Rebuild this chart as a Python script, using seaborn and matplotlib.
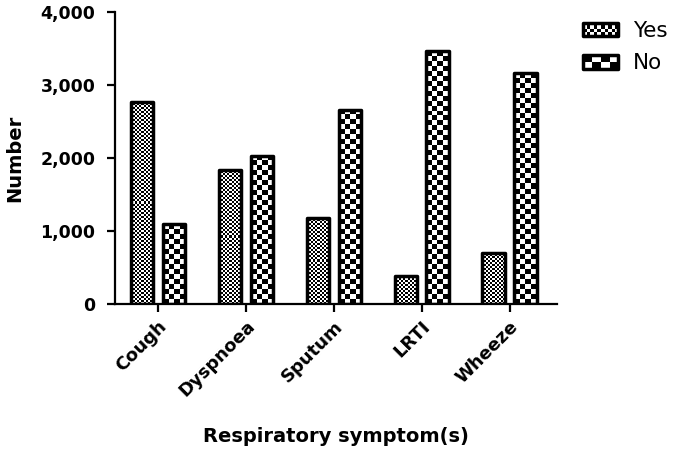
import numpy as np
import pandas as pd
import matplotlib
matplotlib.use('Agg')
import matplotlib.pyplot as plt
import seaborn as sns
from matplotlib.patches import Rectangle
from matplotlib.legend_handler import HandlerBase
from matplotlib.image import BboxImage
from matplotlib.transforms import Bbox, TransformedBbox
from matplotlib.ticker import FuncFormatter

# data
symptoms = ['Cough', 'Dyspnoea', 'Sputum', 'LRTI', 'Wheeze']
yes_counts = [2770, 1840, 1180, 380, 700]
no_counts = [1090, 2030, 2660, 3460, 3160]
groups = ['Yes', 'No']

df = pd.DataFrame({
    'symptom': symptoms * 2,
    'count': yes_counts + no_counts,
    'answer': ['Yes'] * len(symptoms) + ['No'] * len(symptoms),
})

sns.set_style('ticks', {'axes.edgecolor': 'black', 'text.color': 'black',
                        'axes.labelcolor': 'black', 'xtick.color': 'black',
                        'ytick.color': 'black'})
plt.rcParams['font.family'] = ['DejaVu Sans']

# checker square size in pixels for each group
square_px = {'Yes': 2, 'No': 5}


def checker(ny, nx):
    yy, xx = np.indices((max(ny, 1), max(nx, 1)))
    return ((yy + xx) % 2).astype(float)


fig = plt.figure(figsize=(6.75, 4.5), dpi=100)
ax = fig.add_axes([115 / 675, 1 - 304 / 450, (557 - 115) / 675, (304 - 12) / 450])

sns.barplot(data=df, x='symptom', y='count', hue='answer', hue_order=groups,
            order=symptoms, width=0.727, gap=0.31, palette=['white', 'white'],
            edgecolor='black', linewidth=2.5, legend=False, ax=ax)

ax.set_xlim(-0.485, 4.54)
ax.set_ylim(0, 4000)
ax.set_yticks([0, 1000, 2000, 3000, 4000])
ax.yaxis.set_major_formatter(FuncFormatter(lambda v, p: f'{int(v):,}'))

for sp in ['top', 'right']:
    ax.spines[sp].set_visible(False)
for sp in ['left', 'bottom']:
    ax.spines[sp].set_linewidth(1.6)
ax.tick_params(axis='both', length=6, width=1.6, labelsize=12.5, colors='black')
ax.tick_params(axis='y', pad=8)
ax.tick_params(axis='x', labelsize=13)
for lab in ax.get_yticklabels():
    lab.set_fontweight('bold')
plt.setp(ax.get_xticklabels(), rotation=45, ha='right', rotation_mode='anchor',
         fontweight='bold')

ax.set_xlabel('Respiratory symptom(s)', fontsize=14, fontweight='bold', labelpad=19)
ax.set_ylabel('Number', fontsize=14, fontweight='bold', labelpad=12)

# fill each bar with a checkerboard clipped to the bar
bars = list(ax.patches)
n = len(symptoms)
for i, bar in enumerate(bars):
    grp = groups[i // n]
    bar.set_facecolor('none')
    bar.set_zorder(3)
    bar.set_joinstyle('round')
    bb = bar.get_window_extent()
    sq = square_px[grp]
    arr = checker(int(round(bb.height / sq)), int(round(bb.width / sq)))
    x0, y0 = bar.get_x(), bar.get_y()
    im = ax.imshow(arr, cmap='gray', interpolation='nearest', aspect='auto',
                   extent=[x0, x0 + bar.get_width(), y0, y0 + bar.get_height()],
                   origin='lower', zorder=2)
    im.set_clip_path(bar)

ax.set_xlim(-0.485, 4.54)
ax.set_ylim(0, 4000)


class CheckerHandler(HandlerBase):
    def __init__(self, sq):
        super().__init__()
        self.sq = sq

    def create_artists(self, legend, orig_handle, xdescent, ydescent,
                       width, height, fontsize, trans):
        box = Bbox.from_bounds(-xdescent, -ydescent, width, height)
        img = BboxImage(TransformedBbox(box, trans), cmap='gray',
                        interpolation='nearest', norm=plt.Normalize(0, 1))
        img.set_data(checker(int(round(height / self.sq * 0.8)),
                             int(round(width / self.sq * 0.8))))
        rect = Rectangle((-xdescent, -ydescent), width, height,
                         facecolor='none', edgecolor='black', linewidth=2.5,
                         joinstyle='round', transform=trans)
        return [img, rect]


handles = [Rectangle((0, 0), 1, 1, label=g) for g in groups]
ax.legend(handles=handles, labels=groups,
          handler_map={handles[0]: CheckerHandler(square_px['Yes']),
                       handles[1]: CheckerHandler(square_px['No'])},
          loc='upper left', bbox_to_anchor=(583 / 675, 1 - 21 / 450),
          bbox_transform=fig.transFigure, frameon=False, fontsize=15.5,
          borderpad=0, borderaxespad=0, handlelength=1.63, handleheight=0.58,
          handletextpad=0.7, labelspacing=0.58)

fig.savefig('out.png', dpi=100)
